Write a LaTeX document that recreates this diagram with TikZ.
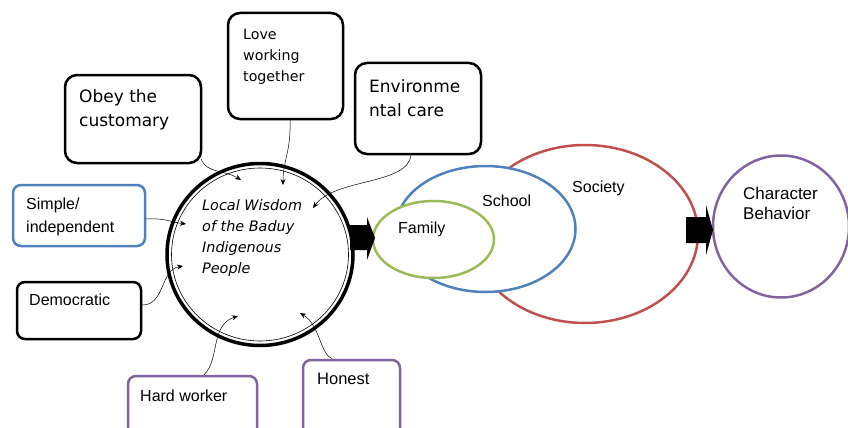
\documentclass[tikz,border=0pt]{standalone}
\usepackage{fontspec}
\setmainfont{Liberation Sans}
\newfontfamily\verd{DejaVu Sans}
\usetikzlibrary{arrows.meta,shapes.geometric}
\definecolor{obl}{RGB}{79,129,189}
\definecolor{ogr}{RGB}{155,187,89}
\definecolor{ord}{RGB}{192,80,77}
\definecolor{opu}{RGB}{128,100,162}
\tikzset{
  box/.style={draw, line width=2.5pt, rounded corners=12pt, inner sep=0pt},
  sbox/.style={draw, line width=2.5pt, rounded corners=8pt, inner sep=0pt},
  txt/.style={anchor=north west, inner sep=0pt, align=left},
  conn/.style={line width=0.5pt, -{Stealth[length=6pt,width=5pt]}},
  ell/.style={draw, ellipse, line width=2.5pt, inner sep=0pt},
  blockarrow/.style={fill=black}
}
\begin{document}
\begin{tikzpicture}[x=1pt,y=-1pt]
\useasboundingbox (0,0) rectangle (848,428);
% boxes
\node[box, minimum width=136pt, minimum height=88pt] (obey) at (133,119) {};
\node[box, minimum width=115pt, minimum height=106pt] (love) at (285.5,66) {};
\node[box, minimum width=126pt, minimum height=91pt] (env) at (418,108.5) {};
\node[sbox, draw=obl, minimum width=132pt, minimum height=61pt] (simple) at (79,215.5) {};
\node[sbox, minimum width=124pt, minimum height=57pt] (demo) at (79,310.5) {};
\node[sbox, draw=opu, minimum width=129pt, minimum height=64pt] (hard) at (192.5,408) {};
\node[sbox, draw=opu, minimum width=97pt, minimum height=80pt] (honest) at (351.5,400) {};
% box texts
\node[txt, font=\verd\fontsize{17}{24}\selectfont] at (79,89) {Obey the\\customary};
\node[txt, font=\verd\fontsize{14.2}{21}\selectfont] at (243,29) {Love\\working\\together};
\node[txt, font=\verd\fontsize{17}{24}\selectfont] at (369,79) {Environme\\ntal care};
\node[txt, font=\fontsize{16}{23}\selectfont] at (26,198) {Simple/\\independent};
\node[txt, font=\fontsize{16}{20}\selectfont] at (29,294) {Democratic};
\node[txt, font=\fontsize{16}{20}\selectfont] at (140,390) {Hard worker};
\node[txt, font=\fontsize{16.5}{20}\selectfont] at (317,373) {Honest};
% central circle
\node[ell, line width=3.5pt, minimum width=186pt, minimum height=182pt] (lw) at (260,254.5) {};
\draw[line width=0.6pt] (lw.center) ellipse [x radius=88.5, y radius=86.5];
\node[txt, font=\verd\itshape\fontsize{14.4}{21}\selectfont] at (202,199) {Local Wisdom\\of the Baduy\\Indigenous\\People};
% ellipses
\node[ell, draw=ord, minimum width=226pt, minimum height=178pt] (society) at (585,234) {};
\node[ell, draw=obl, fill=white, minimum width=180pt, minimum height=126pt] (school) at (485.5,229) {};
\node[ell, draw=ogr, fill=white, minimum width=121pt, minimum height=77pt] (family) at (433.5,239.5) {};
\node[ell, draw=opu, minimum width=136pt, minimum height=142pt] (charb) at (781,226.5) {};
\node[txt, font=\fontsize{16}{20}\selectfont] at (398,222) {Family};
\node[txt, font=\fontsize{16}{20}\selectfont] at (482,195) {School};
\node[txt, font=\fontsize{16}{20}\selectfont] at (572,181) {Society};
\node[txt, font=\fontsize{17}{20}\selectfont] at (743,187) {Character\\Behavior};
% block arrows
\fill[blockarrow] (350,225) -- (367,225) -- (367,217) -- (375,238) -- (367,260) -- (367,250) -- (350,250) -- cycle;
\fill[blockarrow] (686,217) -- (706,217) -- (706,205) -- (713,230) -- (706,255) -- (706,243) -- (686,243) -- cycle;
% arrow end points
\coordinate (e1) at (241,180);
\coordinate (e2) at (283,185);
\coordinate (e3) at (313,208);
\coordinate (e4) at (186,224);
\coordinate (e5) at (183,266);
\coordinate (e6) at (238,316);
\coordinate (e7) at (300,313);
% connectors
\draw[conn] ([shift={(-1,-5)}]obey.south east) .. controls +(5,14) and +(-16,-10) .. (e1);
\draw[conn] ([shift={(4.5,0)}]love.south) .. controls +(1,32) and +(0,-25) .. (e2);
\draw[conn] ([shift={(-7,0)}]env.south) .. controls +(-4,30) and +(22,-30) .. (e3);
\draw[conn] ([shift={(0,3.5)}]simple.east) .. controls +(20,-1) and +(-16,-2) .. (e4);
\draw[conn] ([shift={(0,-5.5)}]demo.east) .. controls +(23,0) and +(-23,4) .. (e5);
\draw[conn] ([shift={(11.5,0)}]hard.north) .. controls +(16,-15) and +(-28,9) .. (e6);
\draw[conn] ([shift={(-19.5,0)}]honest.north) .. controls +(-12,-5) and +(20,12) .. (e7);
\end{tikzpicture}
\end{document}
